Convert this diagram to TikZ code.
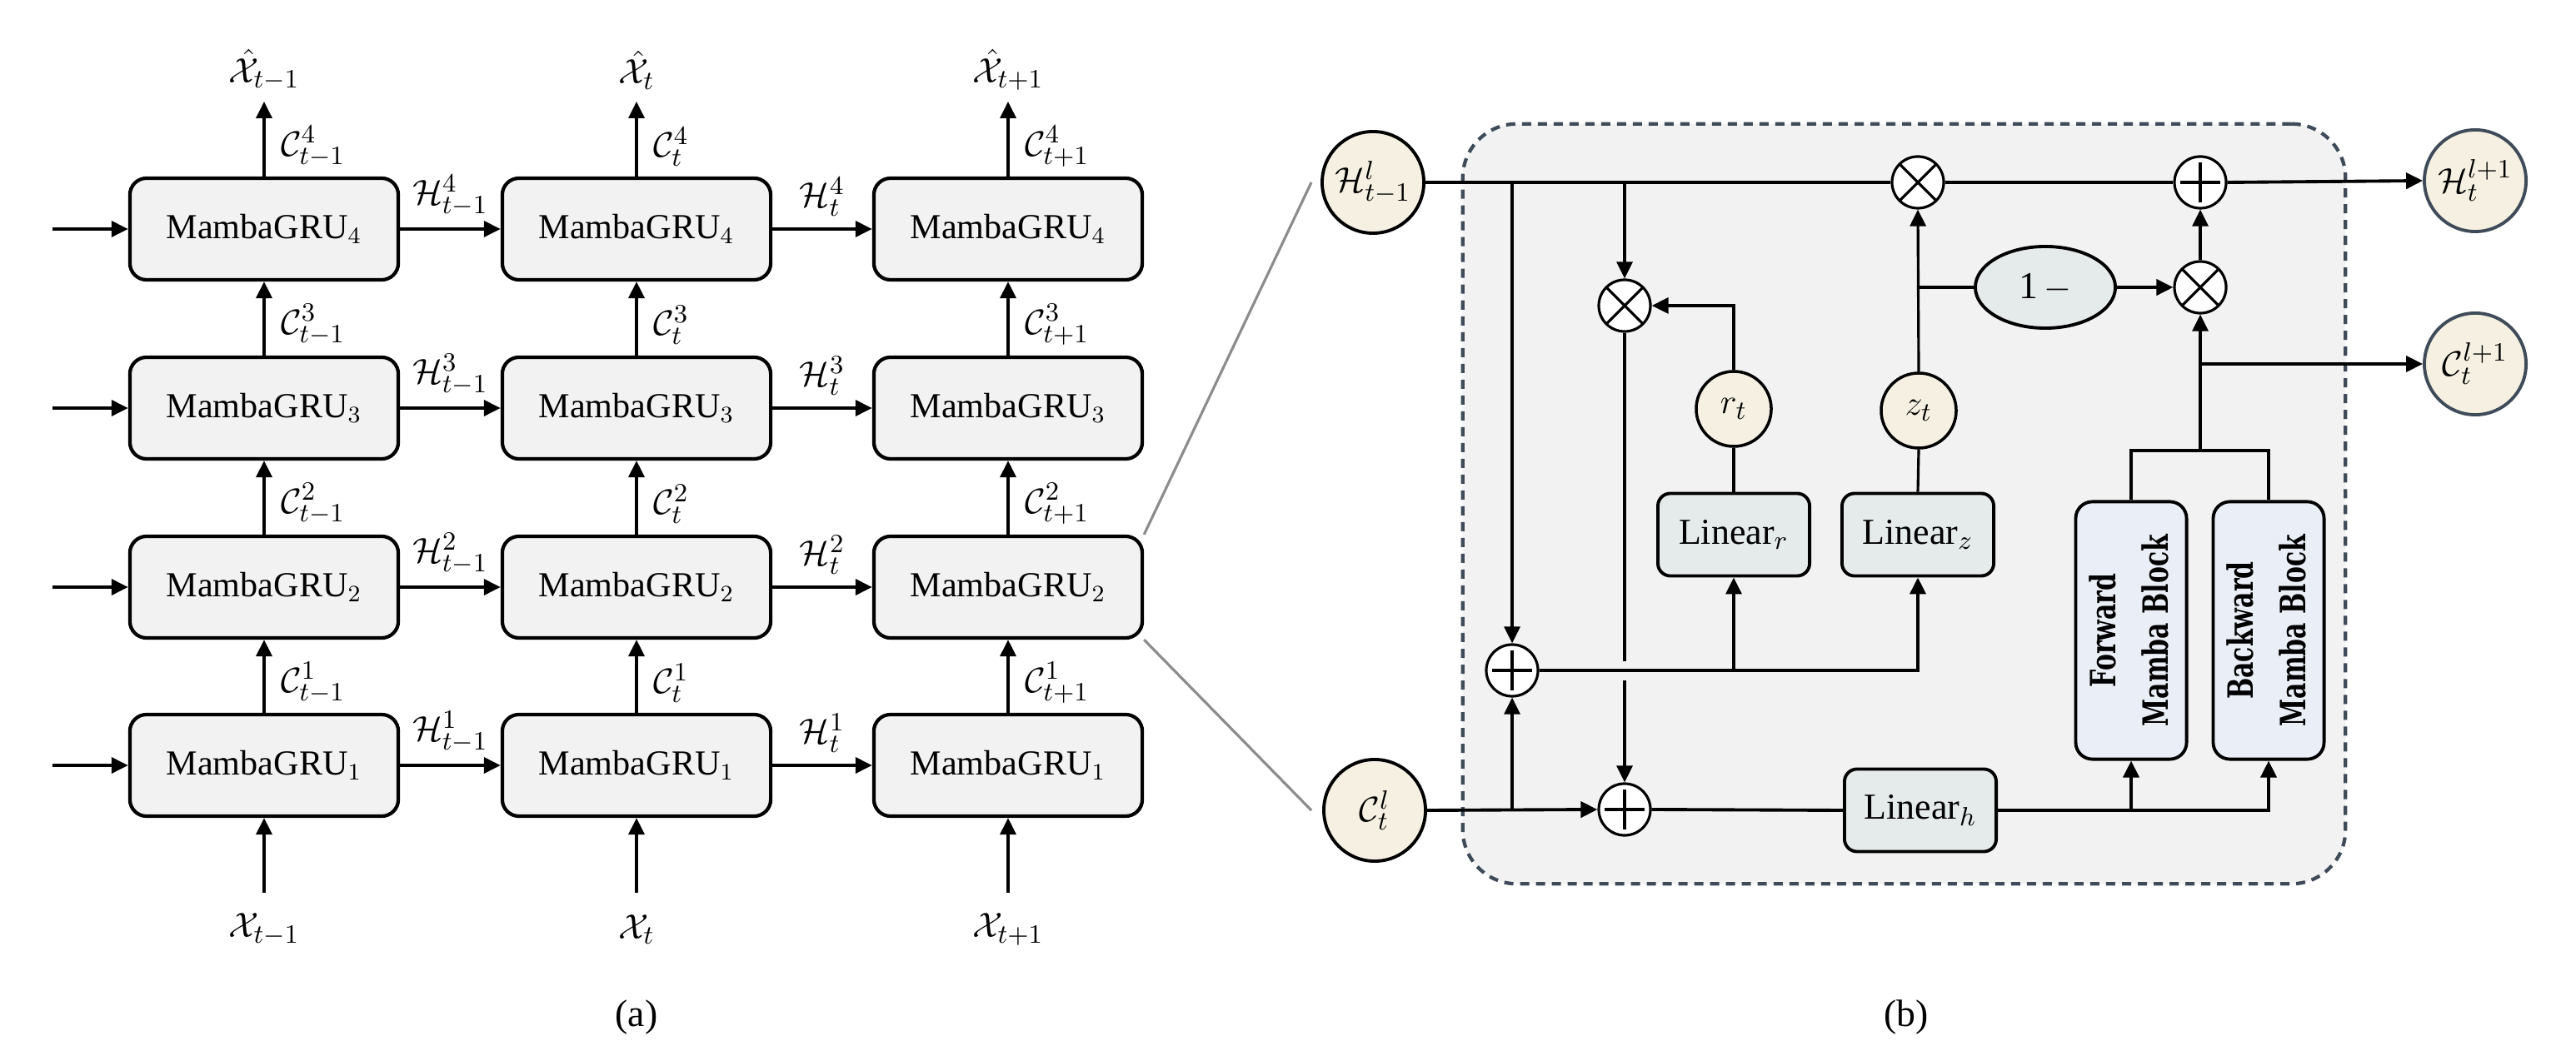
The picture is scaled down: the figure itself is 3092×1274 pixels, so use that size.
\documentclass[tikz,border=0pt]{standalone}
\usepackage{fontspec}
\setmainfont{Liberation Serif}
\newfontfamily\mambafont{DejaVu Serif}
\usepackage{graphicx}
\usetikzlibrary{arrows.meta,calc,shapes.geometric}
\definecolor{boxfill}{HTML}{F2F2F2}
\definecolor{linfill}{HTML}{E5EAEA}
\definecolor{mambafill}{HTML}{EAEFF7}
\definecolor{beige}{HTML}{F5F0E1}
\definecolor{slate}{HTML}{3F4B58}
\definecolor{zoomgray}{HTML}{8C8C8C}
\newcommand{\mambatext}[2]{\rotatebox{90}{\scalebox{1}[1.4]{\begin{tabular}{@{}c@{}}#1\\#2\end{tabular}}}}
\begin{document}
\begin{tikzpicture}[x=0.01cm,y=-0.01cm,
  >={Triangle[length=0.2cm,width=0.19cm]},
  gru/.style={draw,line width=1.2pt,rounded corners=0.2cm,fill=boxfill,minimum width=3.22cm,minimum height=1.22cm,inner sep=0pt,font=\fontsize{12}{14}\selectfont},
  lab/.style={inner sep=1pt,font=\fontsize{13}{15}\selectfont},
  conn/.style={line width=1pt,->},
  thk/.style={line width=1.1pt},
  thn/.style={line width=0.9pt},
  vcirc/.style={circle,draw,line width=1.1pt,fill=beige,minimum size=1.22cm,inner sep=0pt,font=\fontsize{12.5}{14}\selectfont},
  vout/.style={vcirc,draw=slate},
  gatec/.style={circle,draw,line width=1pt,fill=beige,minimum size=0.9cm,inner sep=0pt,font=\fontsize{12.5}{14}\selectfont},
  linbox/.style={draw,line width=1.1pt,rounded corners=0.15cm,fill=linfill,minimum width=1.82cm,minimum height=0.99cm,inner sep=0pt,font=\fontsize{12.5}{14}\selectfont},
  mamba/.style={draw,line width=1.1pt,rounded corners=0.2cm,fill=mambafill,minimum width=1.33cm,minimum height=3.09cm,inner sep=0pt,font=\mambafont\bfseries\fontsize{8.5}{12.8}\selectfont},
  otimesn/.style={circle,draw,line width=0.9pt,fill=white,minimum size=0.62cm,inner sep=0pt,
    path picture={\draw[line width=0.9pt] (path picture bounding box.north west) -- (path picture bounding box.south east)
      (path picture bounding box.north east) -- (path picture bounding box.south west);}},
  oplusn/.style={circle,draw,line width=0.9pt,fill=white,minimum size=0.62cm,inner sep=0pt,
    path picture={\draw[line width=0.9pt] ($(path picture bounding box.center)+(-24,0)$) -- ($(path picture bounding box.center)+(24,0)$)
      ($(path picture bounding box.center)+(0,-24)$) -- ($(path picture bounding box.center)+(0,24)$);}},
  cellbox/.style={draw=slate,line width=1.2pt,dash pattern=on 0.11cm off 0.08cm,rounded corners=0.65cm,fill=boxfill,minimum width=10.59cm,minimum height=9.12cm,inner sep=0pt},
  onem/.style={ellipse,draw,line width=1.1pt,fill=linfill,minimum width=1.68cm,minimum height=0.98cm,inner sep=0pt,font=\fontsize{13}{15}\selectfont},
  captext/.style={inner sep=0pt,font=\fontsize{13}{15}\selectfont}
]
\useasboundingbox (0,0) rectangle (3092,1274);

% ---------------- (a) ----------------
\foreach \c/\x in {1/317,2/764,3/1210}{
  \foreach \r/\y in {1/919,2/705,3/490,4/275}{
    \node[gru] (g\c\r) at (\x,\y) {MambaGRU$_{\r}$};
  }
}
% left inputs
\foreach \r/\y in {1/919,2/705,3/490,4/275}{
  \coordinate (in\r) at (63,\y);
  \draw[conn] (in\r) -- (g1\r.west);
  \draw[conn] (g1\r.east) -- node[lab,above=3pt] {$\mathcal{H}^{\r}_{t-1}$} (g2\r.west);
  \draw[conn] (g2\r.east) -- node[lab,above=3pt] {$\mathcal{H}^{\r}_{t}$} (g3\r.west);
}
% vertical arrows with C labels
\foreach \c/\x/\s in {1/317/{t-1},2/764/{t},3/1210/{t+1}}{
  \foreach \r/\rr/\ym in {1/2/820,2/3/605,3/4/390}{
    \draw[conn] (g\c\r.north) -- (g\c\rr.south);
    \node[lab,anchor=west] (c\c\r) at (\x+16,\ym) {$\mathcal{C}^{\r}_{\s}$};
  }
  \coordinate (top\c) at (\x,122);
  \draw[conn] (g\c4.north) -- (top\c);
  \node[lab,anchor=west] (c\c4) at (\x+16,176) {$\mathcal{C}^{4}_{\s}$};
  \node[lab] (xh\c) at (\x,84) {$\hat{\mathcal{X}}_{\s}$};
  \coordinate (bot\c) at (\x,1072);
  \draw[conn] (bot\c) -- (g\c1.south);
  \node[lab] (xi\c) at (\x,1116) {$\mathcal{X}_{\s}$};
}
\node[captext] (capa) at (764,1222) {(a)};

% ---------------- (b) ----------------
\node[cellbox] (cell) at (2285.5,605) {};
\node[vcirc] (Hin) at (1648,219) {$\mathcal{H}^{l}_{t-1}$};
\node[vcirc] (Cin) at (1650,973) {$\mathcal{C}^{l}_{t}$};
\node[vout] (Hout) at (2971,217) {$\mathcal{H}^{l+1}_{t}$};
\node[vout] (Cout) at (2971,437) {$\mathcal{C}^{l+1}_{t}$};

% zoom lines
\coordinate (zh) at (1574,219);
\coordinate (zc) at (1574,973);
\draw[zoomgray,line width=0.9pt] (g32.north east) -- (zh);
\draw[zoomgray,line width=0.9pt] (g32.south east) -- (zc);

\node[otimesn] (mz) at (2302,219) {};
\node[oplusn] (ah) at (2641,219) {};
\node[otimesn] (m2) at (2641,345) {};
\node[onem] (om) at (2455,345) {1\,$-$};
\node[otimesn] (mr) at (1950,367) {};
\node[gatec] (rt) at (2081,491) {$r_t$};
\node[gatec] (zt) at (2303,493) {$z_t$};
\node[linbox] (lr) at (2081,642) {Linear$_r$};
\node[linbox] (lz) at (2302,642) {Linear$_z$};
\node[oplusn] (ax) at (1815,805) {};
\node[oplusn] (ac) at (1950,972) {};
\node[linbox] (lh) at (2305,973) {Linear$_h$};
\node[mamba] (fwd) at (2558,757) {\mambatext{Forward}{Mamba Block}};
\node[mamba] (bwd) at (2723,757) {\mambatext{Backward}{Mamba Block}};

% top hidden line
\draw[thk] (Hin.east) -- (mz.west);
\draw[thk] (mz.east) -- (ah.west);
\draw[thk,->] (ah.east) -- (Hout.west);
\coordinate (b1) at (1815,219);
\coordinate (b2) at (1950,219);
\draw[thn,->] (b1) -- (ax.north);
\draw[thn,->] (b2) -- (mr.north);
% reset gate
\draw[thn,->] (rt.north) |- (mr.east);
\coordinate (j1) at (1950,794);
\coordinate (j2) at (1950,817);
\draw[thn] (mr.south) -- (j1);
\draw[thn,->] (j2) -- (ac.north);
% cell input
\draw[thk,->] (Cin.east) -- (ac.west);
\coordinate (b3) at (1815,973);
\draw[thn,->] (b3) -- (ax.south);
% to linear r/z
\draw[thk,->] (ax.east) -| (lz.south);
\coordinate (b4) at (2081,805);
\draw[thn,->] (b4) -- (lr.south);
\draw[thn] (lr.north) -- (rt.south);
\draw[thn] (lz.north) -- (zt.south);
% update gate
\draw[thn,->] (zt.north) -- (mz.south);
\coordinate (b5) at (2303,345);
\draw[thn] (b5) -- (om.west);
\draw[thk,->] (om.east) -- (m2.west);
% candidate path
\draw[thk] (ac.east) -- (lh.west);
\draw[thk,->] (lh.east) -| (bwd.south);
\coordinate (b6) at (2558,973);
\draw[thk,->] (b6) -- (fwd.south);
\coordinate (jn) at (2641,541);
\draw[thk] (fwd.north) -- (fwd.north |- jn) -- (bwd.north |- jn) -- (bwd.north);
\draw[thn,->] (jn) -- (m2.south);
\coordinate (b7) at (2641,437);
\draw[thk,->] (b7) -- (Cout.west);
\draw[thn,->] (m2.north) -- (ah.south);

\node[captext] (capb) at (2288,1222) {(b)};
\end{tikzpicture}
\end{document}
